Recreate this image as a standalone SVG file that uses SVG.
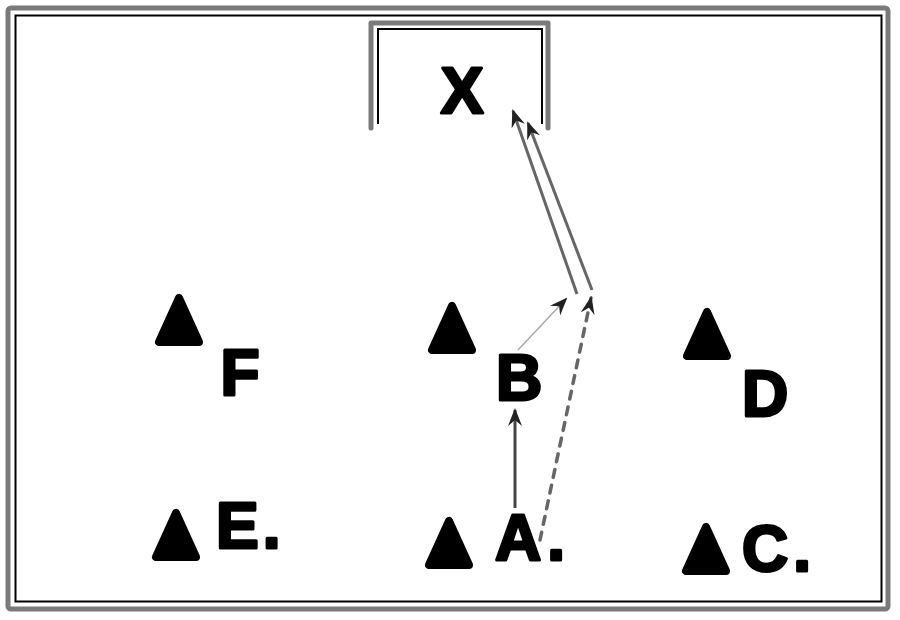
<svg xmlns="http://www.w3.org/2000/svg" width="900" height="620" viewBox="0 0 900 620">
<style>
.lbl{font-family:"Liberation Sans",Arial,sans-serif;font-weight:bold;font-size:64px;fill:#000;stroke:#000;stroke-width:3;stroke-linejoin:round}
.tri{fill:#000;stroke:#000;stroke-width:8;stroke-linejoin:round}
.gray{fill:none;stroke:#7a7a7a;stroke-width:5;stroke-linejoin:round;stroke-linecap:round}
.blk{fill:none;stroke:#000;stroke-width:2}
.conn{fill:none;stroke:#444;stroke-width:3}
</style>
<defs>
<path id="tri" d="M0,5 L-20,49 L20,49 Z"/>
<marker id="ah" viewBox="0 0 18 14" refX="16" refY="7" markerWidth="18" markerHeight="14" markerUnits="userSpaceOnUse" orient="auto">
<path d="M0,0 L18,7 L0,14 L6,7 Z" fill="#222"/>
</marker>
</defs>
<rect width="900" height="620" fill="#fff"/>
<g id="frame">
<rect x="8" y="8" width="880" height="601" rx="3" class="gray"/>
<rect x="15.5" y="15.5" width="866" height="586" class="blk"/>
</g>
<g id="goal">
<path d="M371,128 V23 H548 V128" class="gray"/>
<path d="M378,124 V29 H542 V124" class="blk"/>
<text x="462" y="113" text-anchor="middle" class="lbl">X</text>
</g>
<g id="connectors">
<line x1="515" y1="508" x2="515" y2="410" class="conn" marker-end="url(#ah)"/>
<line x1="518" y1="350" x2="566" y2="299" stroke="#aaa" stroke-width="1.5" marker-end="url(#ah)"/>
<line x1="540" y1="540" x2="591" y2="298" stroke="#666" stroke-width="3.5" stroke-dasharray="8 8" stroke-linecap="round" marker-end="url(#ah)"/>
<line x1="577" y1="294" x2="513" y2="111" stroke="#666" stroke-width="3" marker-end="url(#ah)"/>
<line x1="592" y1="290" x2="528" y2="123" stroke="#666" stroke-width="3" marker-end="url(#ah)"/>
</g>
<g id="node-F">
<use href="#tri" x="179" y="293" class="tri"/>
<text x="240" y="395" text-anchor="middle" class="lbl">F</text>
</g>
<g id="node-B">
<use href="#tri" x="452" y="301" class="tri"/>
<text x="519" y="400" text-anchor="middle" class="lbl">B</text>
</g>
<g id="node-D">
<use href="#tri" x="707" y="307" class="tri"/>
<text x="765" y="416" text-anchor="middle" class="lbl">D</text>
</g>
<g id="node-E">
<use href="#tri" x="176" y="508" class="tri"/>
<text x="216" y="548" class="lbl">E<tspan dx="4">.</tspan></text>
</g>
<g id="node-A">
<use href="#tri" x="449" y="516" class="tri"/>
<text x="495" y="560" class="lbl">A<tspan dx="6">.</tspan></text>
</g>
<g id="node-C">
<use href="#tri" x="706" y="522" class="tri"/>
<text x="742" y="571" class="lbl">C<tspan dx="5">.</tspan></text>
</g>
</svg>
